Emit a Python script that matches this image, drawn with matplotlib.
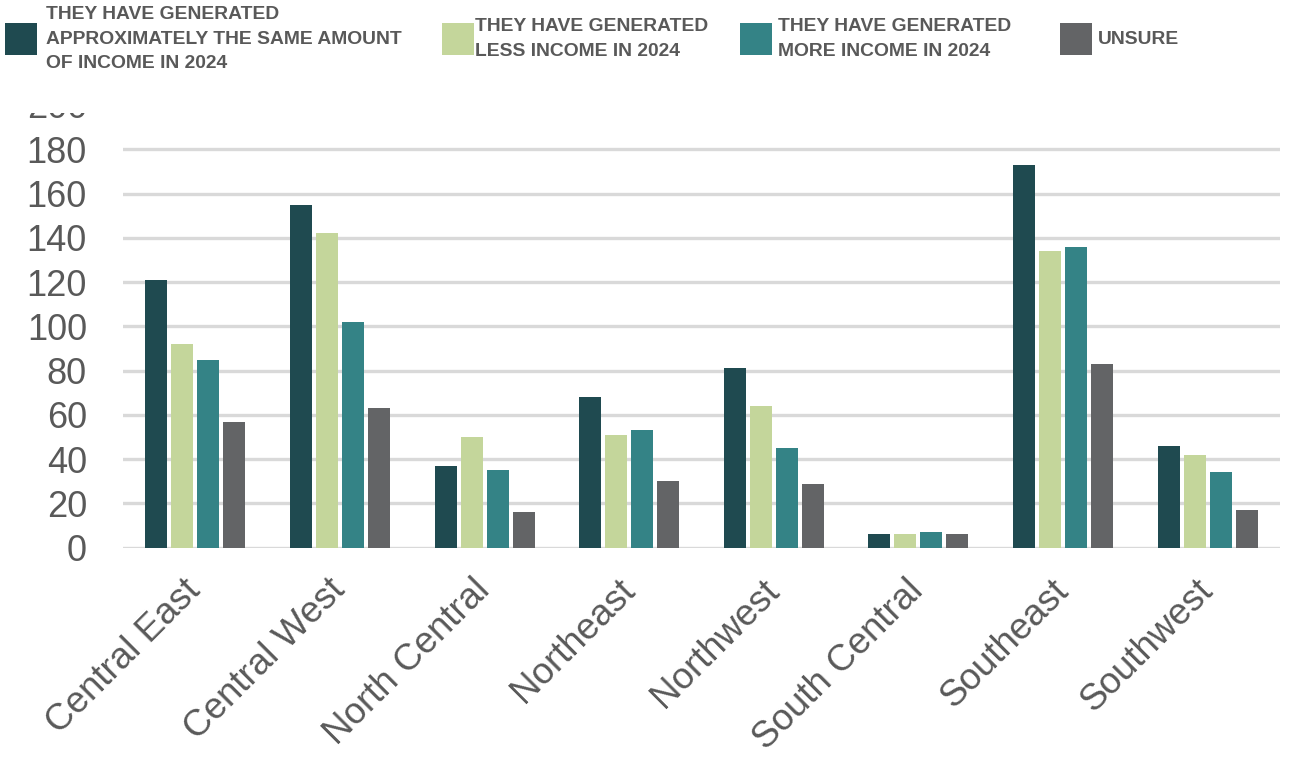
import matplotlib
matplotlib.use("Agg")
import matplotlib.pyplot as plt
import numpy as np
from matplotlib.patches import Rectangle

# Survey responses by region
regions = ["Central East", "Central West", "North Central", "Northeast",
           "Northwest", "South Central", "Southeast", "Southwest"]
same_income = [121, 155, 37, 68, 81, 6, 173, 46]
less_income = [92, 142, 50, 51, 64, 6, 134, 42]
more_income = [85, 102, 35, 53, 45, 7, 136, 34]
unsure = [57, 63, 16, 30, 29, 6, 83, 17]

series_labels = [
    "THEY HAVE GENERATED\nAPPROXIMATELY THE SAME AMOUNT\nOF INCOME IN 2024",
    "THEY HAVE GENERATED\nLESS INCOME IN 2024",
    "THEY HAVE GENERATED\nMORE INCOME IN 2024",
    "UNSURE",
]
series_colors = ["#1f4a50", "#c4d69b", "#348386", "#636466"]
y_ticks = [0, 20, 40, 60, 80, 100, 120, 140, 160, 180, 200]

W, H = 1289, 761
fig = plt.figure(figsize=(W / 100, H / 100), dpi=100)
fig.patch.set_facecolor("white")

ax = fig.add_axes([123 / W, (H - 547.7) / H, 1157 / W, (547.7 - 105) / H])

text_color = "#595959"
font = ["Liberation Sans", "DejaVu Sans"]

x = np.arange(len(regions))
stride = 0.18
width = 0.152
all_series = [same_income, less_income, more_income, unsure]
for i, (vals, col) in enumerate(zip(all_series, series_colors)):
    ax.bar(x + (i - 1.5) * stride, vals, width=width, color=col, zorder=3)

ax.set_xlim(-0.5, len(regions) - 0.5)
ax.set_ylim(0, 200)
ax.set_yticks(y_ticks)
ax.set_yticklabels([str(v) for v in y_ticks], fontsize=26, color=text_color,
                   family=font)
ax.yaxis.grid(True, color="#d9d9d9", linewidth=2.4, zorder=0)
ax.set_axisbelow(True)
ax.tick_params(axis="y", length=0, pad=26)
ax.tick_params(axis="x", length=0, pad=27)
for s in ax.spines.values():
    s.set_visible(False)

ax.set_xticks(x)
ax.set_xticklabels(regions, rotation=45, ha="right", va="center",
                   rotation_mode="anchor", fontsize=26.5, color=text_color,
                   family=font)

# White band above the plot area
fig.patches.append(Rectangle((0, (H - 113) / H), 1, 33 / H,
                             transform=fig.transFigure, facecolor="white",
                             edgecolor="none", zorder=5))

# Legend along the top
legend_font = ["Liberation Sans", "DejaVu Sans"]
patch_x = [5, 442, 740, 1060]
text_x = [46, 475, 778, 1098]
for px, tx, lab, col in zip(patch_x, text_x, series_labels, series_colors):
    fig.patches.append(Rectangle((px / W, (H - 55) / H), 32 / W, 32 / H,
                                 transform=fig.transFigure, facecolor=col,
                                 edgecolor="none", zorder=6))
    fig.text(tx / W, (H - 39) / H, lab, ha="left", va="center",
             fontsize=13.9, fontweight="bold", color=text_color,
             family=legend_font, linespacing=1.6, zorder=7)

fig.savefig("out.png", dpi=100, facecolor="white")
